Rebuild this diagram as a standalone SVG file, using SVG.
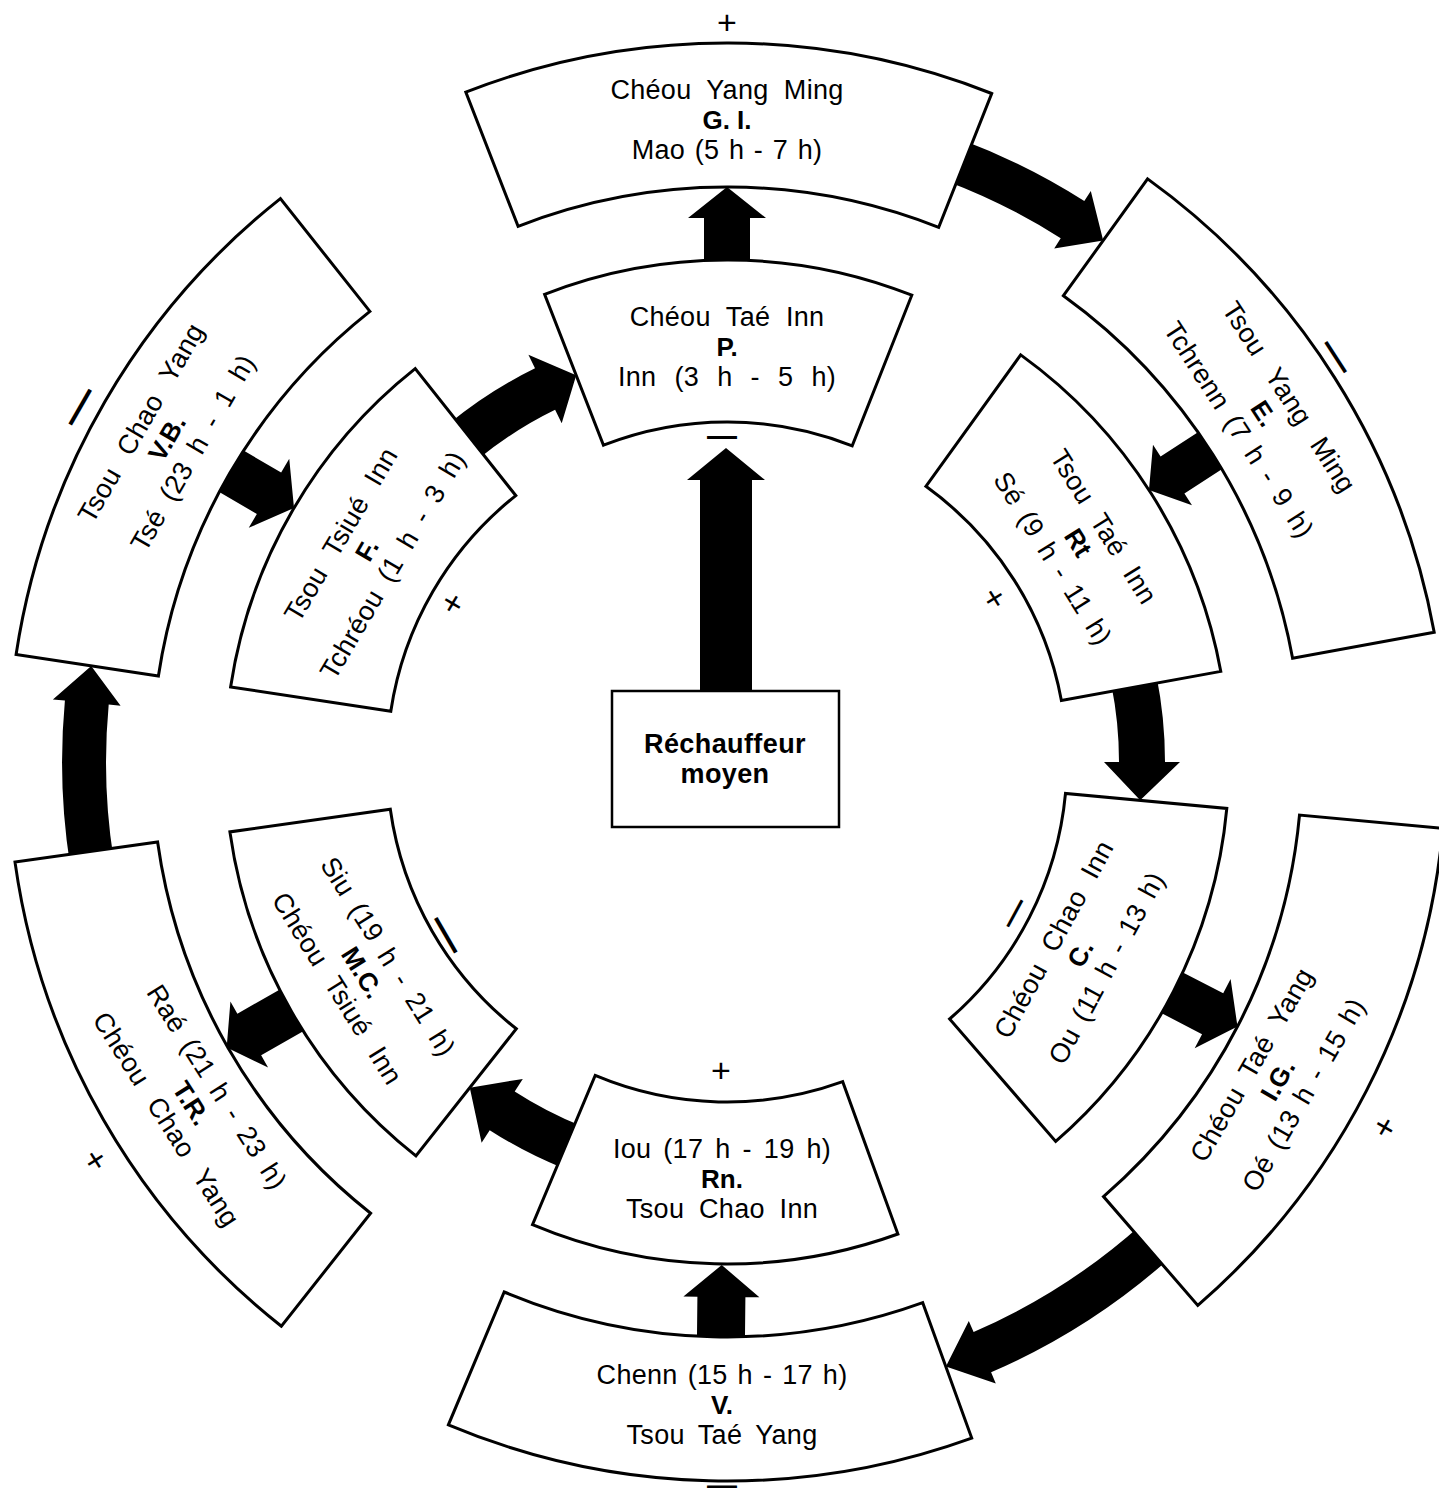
<svg xmlns="http://www.w3.org/2000/svg" width="1439" height="1499" viewBox="0 0 1439 1499">
<style>
.box{fill:#fff;stroke:#000;stroke-width:3;stroke-linejoin:miter}
.arrow{fill:#000;stroke:none}
text{font-family:"Liberation Sans",Arial,Helvetica,sans-serif;fill:#000;text-anchor:middle}
.t{font-size:27px;letter-spacing:0.3px;word-spacing:5px}
.s{font-size:27px;letter-spacing:0.3px;word-spacing:8px}
.b{font-size:26px;font-weight:bold}
.p{font-size:34px}
.m{font-size:34px;font-weight:bold}
.rb{fill:#fff;stroke:#000;stroke-width:2.5}
</style>
<rect width="1439" height="1499" fill="#fff"/>
<g id="connectors">
<path class="arrow" d="M700,692 L700,480 L687,480 L726,448 L765,480 L752,480 L752,692 Z"/>
<path class="arrow" transform="translate(727 762) rotate(-90)" d="M495,-23 L544,-23 L544,-39 L575,0 L544,39 L544,23 L495,23 Z"/>
<path class="arrow" d="M960.9,139.5 A665,665 0 0 1 1084.3,201.1 L1090.8,191.0 L1103.2,240.5 L1054.2,248.4 L1060.7,238.2 A621,621 0 0 0 945.5,180.7 Z"/>
<path class="arrow" transform="translate(727 762) rotate(-32.8)" d="M585,-22 L530,-22 L530,-36 L502,0 L530,36 L530,22 L585,22 Z"/>
<path class="arrow" d="M1156.4,675.4 A438,438 0 0 1 1165,762 L1180,762 L1140.2,800.3 L1104,762 L1119,762 A392,392 0 0 0 1111.3,684.5 Z"/>
<path class="arrow" transform="translate(727 762) rotate(27.4)" d="M495,-23 L547,-23 L547,-39 L575,0 L547,39 L547,23 L495,23 Z"/>
<path class="arrow" d="M1171.1,1257.0 A665,665 0 0 1 991.1,1372.3 L995.8,1383.4 L945.9,1366.6 L968.8,1320.9 L973.6,1332.0 A621,621 0 0 0 1141.7,1224.2 Z"/>
<path class="arrow" transform="translate(727 762) rotate(90.6)" d="M585,-24 L535,-24 L535,-38 L503,0 L535,38 L535,24 L585,24 Z"/>
<path class="arrow" d="M564.3,1168.7 A438,438 0 0 1 489.7,1130.2 L481.6,1142.8 L469.8,1087.7 L522.8,1078.9 L514.7,1091.5 A392,392 0 0 0 581.4,1126.0 Z"/>
<path class="arrow" transform="translate(727 762) rotate(150.3)" d="M495,-24 L550,-24 L550,-38 L576,0 L550,38 L550,24 L495,24 Z"/>
<path class="arrow" d="M70.2,866.0 A665,665 0 0 1 64.9,700.6 L52.9,699.4 L91.2,665.9 L120.6,705.7 L108.7,704.6 A621,621 0 0 0 113.6,859.1 Z"/>
<path class="arrow" transform="translate(727 762) rotate(-149.6)" d="M585,-24 L531,-24 L531,-40 L502,0 L531,40 L531,24 L585,24 Z"/>
<path class="arrow" d="M449.0,423.6 A438,438 0 0 1 535.0,368.3 L528.4,354.8 L576.2,375.3 L561.7,423.2 L555.1,409.7 A392,392 0 0 0 478.2,459.1 Z"/>
</g>
<g id="node-GI">
<path class="box" d="M465.8,92.1 A719,719 0 0 1 991.7,93.5 L938.7,227.4 A575,575 0 0 0 518.1,226.3 Z"/>
<g transform="translate(727 120)">
<text class="t" y="-21" style="word-spacing:7.5px">Chéou Yang Ming</text>
<text class="b" y="9">G. I.</text>
<text class="t" y="39" style="word-spacing:1.8px">Mao (5 h - 7 h)</text>
</g>
<text class="p" x="727" y="34">+</text>
</g>
<g id="node-P">
<path class="box" d="M544.6,294.3 A502,502 0 0 1 911.8,295.2 L852.2,445.9 A340,340 0 0 0 603.5,445.2 Z"/>
<g transform="translate(727 347)">
<text class="t" y="-21" style="word-spacing:7.8px">Chéou Taé Inn</text>
<text class="b" y="9">P.</text>
<text class="t" y="39" style="word-spacing:10.3px">Inn (3 h - 5 h)</text>
</g>
<text class="m" x="722" y="446" style="font-size:30px">—</text>
</g>
<g id="node-E">
<path class="box" d="M1147.6,178.9 A719,719 0 0 1 1434.2,632.2 L1292.6,658.2 A575,575 0 0 0 1063.4,295.7 Z"/>
<g transform="translate(1263.8 413.5) rotate(57)">
<text class="s" y="-21" style="word-spacing:13px">Tsou Yang Ming</text>
<text class="b" y="9">E.</text>
<text class="s" y="39" style="word-spacing:5px">Tchrenn (7 h - 9 h)</text>
</g>
<g transform="translate(1336 357) rotate(57)"><text class="m" y="10" style="font-size:36px">—</text></g>
</g>
<g id="node-Rt">
<path class="box" d="M1020.7,354.9 A502,502 0 0 1 1220.8,671.4 L1061.4,700.6 A340,340 0 0 0 925.9,486.3 Z"/>
<g transform="translate(1078.1 542.6) rotate(58)">
<text class="s" y="-21" style="word-spacing:10px">Tsou Taé Inn</text>
<text class="b" y="9">Rt</text>
<text class="s" y="39" style="word-spacing:4.6px">Sé (9 h - 11 h)</text>
</g>
<g transform="translate(995 598) rotate(58)"><text class="p" y="12">+</text></g>
</g>
<g id="node-IG">
<path class="box" d="M1442.9,828.4 A719,719 0 0 1 1197.8,1305.4 L1103.5,1196.6 A575,575 0 0 0 1299.5,815.1 Z"/>
<g transform="translate(1277.8 1080) rotate(-60)">
<text class="s" y="-21" style="word-spacing:8px">Chéou Taé Yang</text>
<text class="b" y="9">I.G.</text>
<text class="s" y="39" style="word-spacing:4.5px">Oé (13 h - 15 h)</text>
</g>
<g transform="translate(1384 1127) rotate(-60)"><text class="p" y="12">+</text></g>
</g>
<g id="node-C">
<path class="box" d="M1226.8,808.4 A502,502 0 0 1 1055.7,1141.4 L949.6,1019.0 A340,340 0 0 0 1065.5,793.4 Z"/>
<g transform="translate(1080.3 953.8) rotate(-61.5)">
<text class="s" y="-21" style="word-spacing:9.6px">Chéou Chao Inn</text>
<text class="b" y="9">C.</text>
<text class="s" y="39" style="word-spacing:4px">Ou (11 h - 13 h)</text>
</g>
<g transform="translate(1014 913) rotate(-61.5)"><text class="m" y="9" style="font-size:30px">—</text></g>
</g>
<g id="node-V">
<path class="box" d="M971.7,1438.1 A719,719 0 0 1 448.4,1424.8 L504.2,1292.0 A575,575 0 0 0 922.7,1302.7 Z"/>
<g transform="translate(722 1405)">
<text class="t" y="-21" style="word-spacing:2.2px">Chenn (15 h - 17 h)</text>
<text class="b" y="9">V.</text>
<text class="t" y="39" style="word-spacing:5.7px">Tsou Taé Yang</text>
</g>
<g transform="translate(722 1493) scale(1.25 1)"><text class="m" style="font-size:24px">—</text></g>
</g>
<g id="node-Rn">
<path class="box" d="M897.9,1234.0 A502,502 0 0 1 532.5,1224.7 L595.2,1075.4 A340,340 0 0 0 842.7,1081.7 Z"/>
<g transform="translate(722 1179)">
<text class="t" y="-21" style="word-spacing:4.2px">Iou (17 h - 19 h)</text>
<text class="b" y="9">Rn.</text>
<text class="t" y="39" style="word-spacing:7px">Tsou Chao Inn</text>
</g>
<text class="p" x="721" y="1082">+</text>
</g>
<g id="node-TR">
<path class="box" d="M281.4,1326.2 A719,719 0 0 1 15.0,862.1 L157.6,842.0 A575,575 0 0 0 370.6,1213.2 Z"/>
<g transform="translate(191.4 1103.2) rotate(57.5)">
<text class="s" y="-21" style="word-spacing:5.4px">Raé (21 h - 23 h)</text>
<text class="b" y="9">T.R.</text>
<text class="s" y="39" style="word-spacing:12px">Chéou Chao Yang</text>
</g>
<g transform="translate(96 1160) rotate(57.5)"><text class="p" y="12">+</text></g>
</g>
<g id="node-MC">
<path class="box" d="M415.9,1155.9 A502,502 0 0 1 229.9,831.9 L390.3,809.3 A340,340 0 0 0 516.3,1028.8 Z"/>
<g transform="translate(362.4 972.5) rotate(58)">
<text class="s" y="-21" style="word-spacing:6px">Siu (19 h - 21 h)</text>
<text class="b" y="9">M.C.</text>
<text class="s" y="39" style="word-spacing:10.7px">Chéou Tsiué Inn</text>
</g>
<g transform="translate(446 935) rotate(60)"><text class="m" y="11" style="font-size:40px">—</text></g>
</g>
<g id="node-VB">
<path class="box" d="M16.1,654.5 A719,719 0 0 1 280.4,198.6 L369.9,311.4 A575,575 0 0 0 158.4,676.0 Z"/>
<g transform="translate(167 438) rotate(-60)">
<text class="s" y="-21" style="word-spacing:11.6px">Tsou Chao Yang</text>
<text class="b" y="9">V.B.</text>
<text class="s" y="39" style="word-spacing:7px">Tsé (23 h - 1 h)</text>
</g>
<g transform="translate(80 407) rotate(-60)"><text class="m" y="11" style="font-size:40px">—</text></g>
</g>
<g id="node-F">
<path class="box" d="M230.6,687.0 A502,502 0 0 1 415.2,368.6 L515.8,495.6 A340,340 0 0 0 390.8,711.2 Z"/>
<g transform="translate(366.9 549.9) rotate(-59.5)">
<text class="s" y="-21" style="word-spacing:10px">Tsou Tsiué Inn</text>
<text class="b" y="9">F.</text>
<text class="s" y="39" style="word-spacing:6.5px">Tchréou (1 h - 3 h)</text>
</g>
<g transform="translate(452 603) rotate(-59.5)"><text class="p" y="12">+</text></g>
</g>
<g id="node-rechauffeur">
<rect class="rb" x="612" y="691" width="227" height="136"/>
<text class="b" x="725" y="753" style="font-size:27px;letter-spacing:0.4px">Réchauffeur</text>
<text class="b" x="725" y="783" style="font-size:27px;letter-spacing:0.4px">moyen</text>
</g>
</svg>
